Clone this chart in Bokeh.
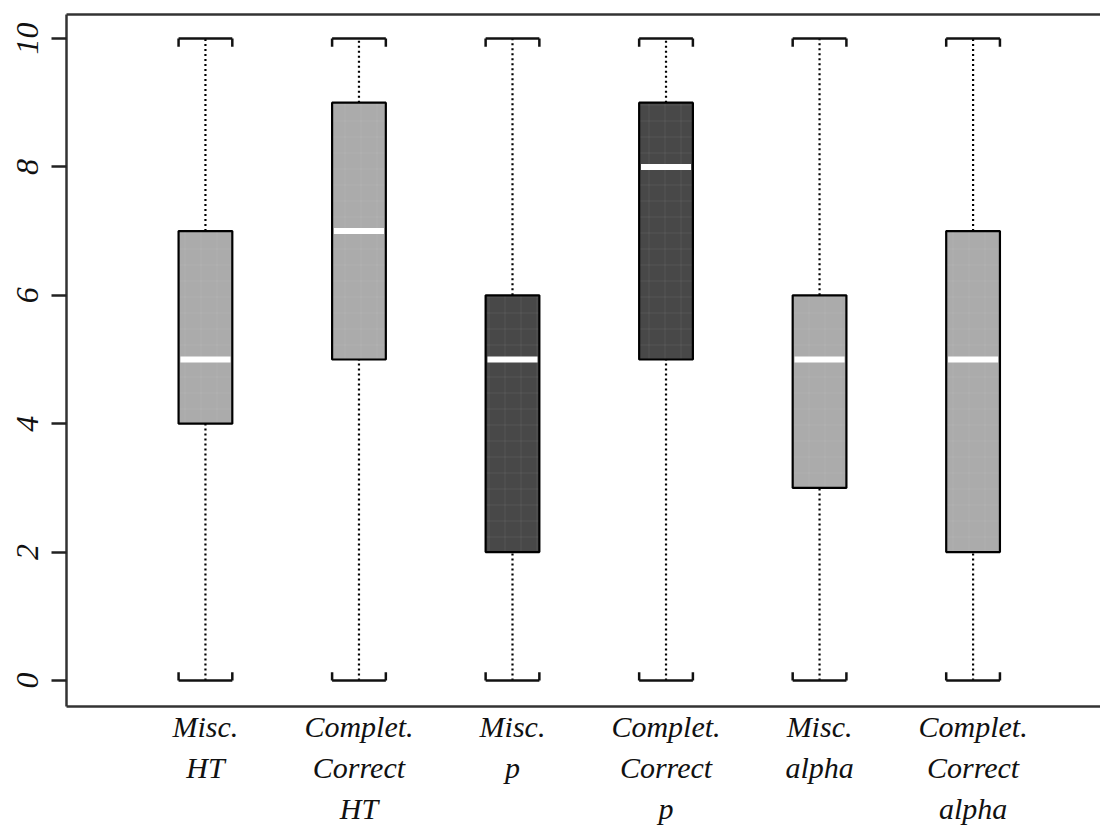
from bokeh.plotting import figure
from bokeh.models import LinearAxis, FixedTicker, ColumnDataSource, Range1d
from bokeh.embed import file_html
from bokeh.resources import INLINE

labels = ["Misc.\nHT", "Complet.\nCorrect\nHT", "Misc.\np", "Complet.\nCorrect\np",
          "Misc.\nalpha", "Complet.\nCorrect\nalpha"]
mins = [0, 0, 0, 0, 0, 0]
q1s = [4, 5, 2, 5, 3, 2]
medians = [5, 7, 5, 8, 5, 5]
q3s = [7, 9, 6, 9, 6, 7]
maxs = [10, 10, 10, 10, 10, 10]
fills = ["#ababab", "#ababab", "#484848", "#484848", "#ababab", "#ababab"]
y_ticks = [0, 2, 4, 6, 8, 10]

xs = list(range(1, len(labels) + 1))
bw = 0.35
serif = 0.13

p = figure(width=1100, height=838, output_backend="svg", toolbar_location=None,
           x_range=Range1d(0.095, 6.83), y_range=Range1d(-0.405, 10.374),
           min_border_left=66, min_border_right=0, min_border_top=14, min_border_bottom=132,
           x_axis_location=None, y_axis_location=None)
p.outline_line_color = None
p.grid.visible = False
p.background_fill_color = "white"
p.border_fill_color = "white"

src = ColumnDataSource(dict(x=xs, lo=mins, q1=q1s, med=medians, q3=q3s, hi=maxs, fill=fills,
                            xl=[x - bw / 2 for x in xs], xr=[x + bw / 2 for x in xs],
                            xml=[x - bw / 2 + 0.012 for x in xs], xmr=[x + bw / 2 - 0.012 for x in xs],
                            hi_s=[h - serif for h in maxs], lo_s=[l + serif for l in mins]))

# whiskers
p.segment(x0="x", y0="q3", x1="x", y1="hi", source=src, line_color="black", line_width=2.2, line_dash="2 3")
p.segment(x0="x", y0="lo", x1="x", y1="q1", source=src, line_color="black", line_width=2.2, line_dash="2 3")
# caps
for y, ys in (("hi", "hi_s"), ("lo", "lo_s")):
    p.segment(x0="xl", y0=y, x1="xr", y1=y, source=src, line_color="#111111", line_width=2.5)
    p.segment(x0="xl", y0=y, x1="xl", y1=ys, source=src, line_color="#111111", line_width=2.5)
    p.segment(x0="xr", y0=y, x1="xr", y1=ys, source=src, line_color="#111111", line_width=2.5)
# boxes
p.vbar(x="x", bottom="q1", top="q3", width=bw, source=src, fill_color="fill",
       line_color="black", line_width=2.2, hatch_pattern="+", hatch_scale=16,
       hatch_color="#d8d8d8", hatch_alpha=0.08, hatch_weight=1)
# medians
p.segment(x0="xml", y0="med", x1="xmr", y1="med", source=src, line_color="white",
          line_width=6, line_cap="butt")

axis_kw = dict(axis_line_color="#333333", axis_line_width=2.5,
               major_label_text_font="Liberation Serif", major_label_text_font_style="italic",
               major_label_text_color="#111111", minor_tick_line_color=None)

yax = LinearAxis(ticker=FixedTicker(ticks=y_ticks), **axis_kw)
yax.major_tick_in = 0
yax.major_tick_out = 15
yax.major_tick_line_width = 2.5
yax.major_tick_line_color = "#222222"
yax.major_label_orientation = "vertical"
yax.major_label_text_font_size = "32px"
yax.major_label_standoff = 13
p.add_layout(yax, "left")

xax = LinearAxis(ticker=FixedTicker(ticks=xs), **axis_kw)
xax.major_tick_line_color = None
xax.major_tick_in = 0
xax.major_tick_out = 0
xax.major_label_overrides = {x: l for x, l in zip(xs, labels)}
xax.major_label_text_font_size = "30px"
xax.major_label_text_line_height = 1.25
xax.major_label_standoff = 3
p.add_layout(xax, "below")

tax = LinearAxis(ticker=FixedTicker(ticks=[]), axis_line_color="#333333", axis_line_width=2.5,
                 major_tick_line_color=None, minor_tick_line_color=None,
                 major_label_text_font_size="0px")
p.add_layout(tax, "above")

open("out.html", "w").write(file_html(p, INLINE))
